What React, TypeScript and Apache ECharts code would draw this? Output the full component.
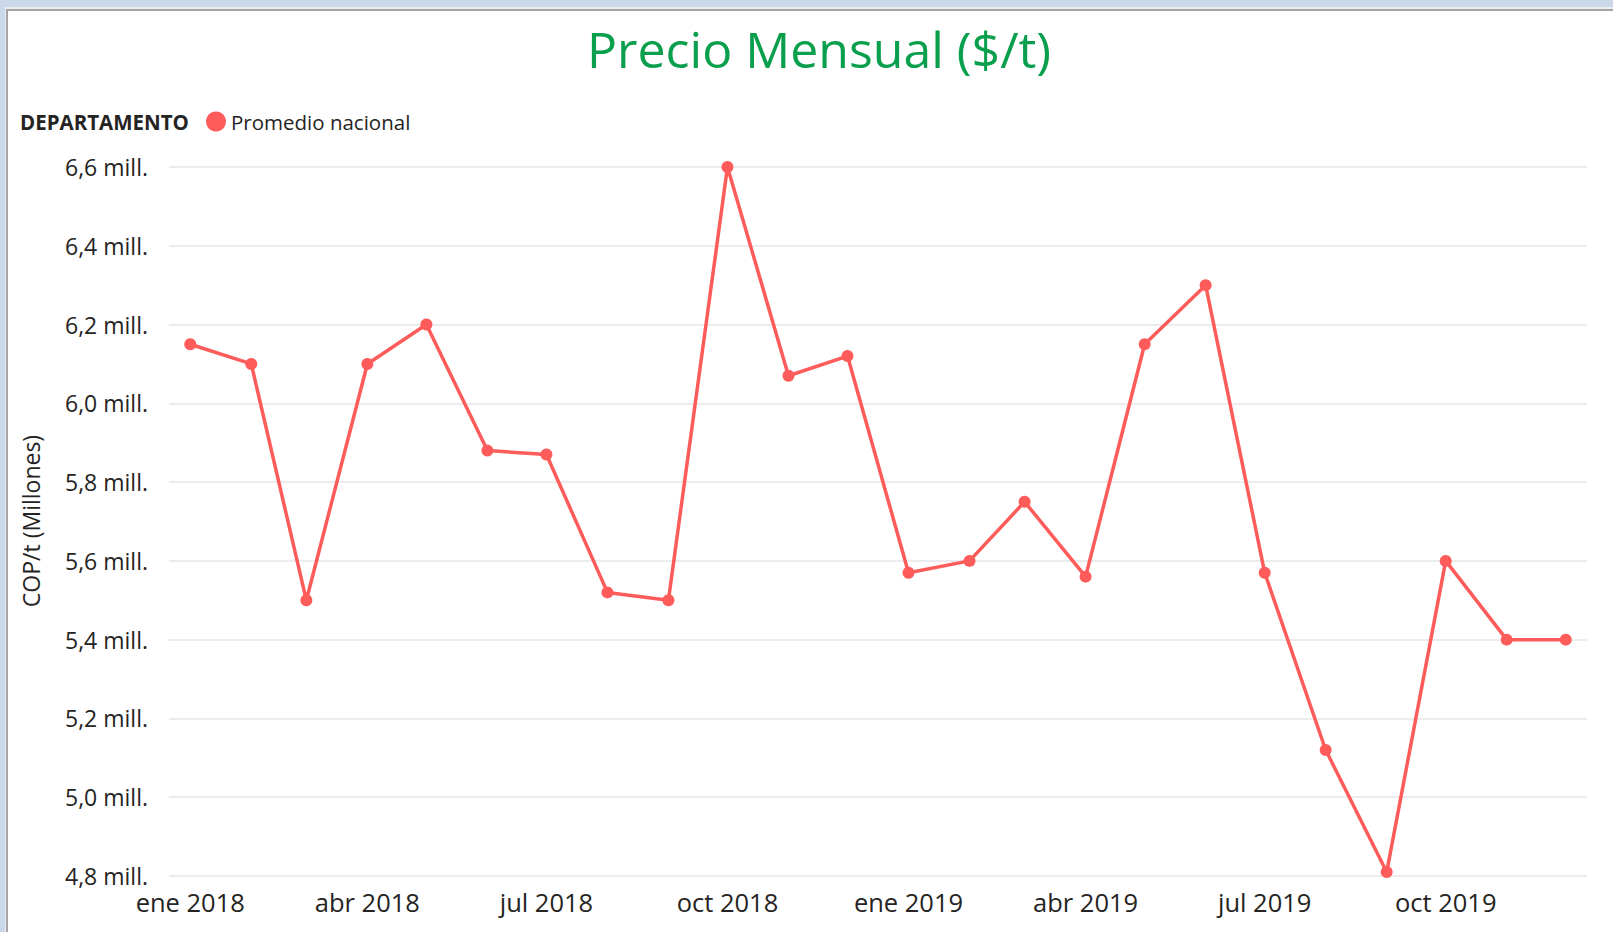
import React, { useEffect, useRef } from "react";
import * as echarts from "echarts";

// Months of the series (first day of each month)
const months: string[] = [
  "2018-01", "2018-02", "2018-03", "2018-04", "2018-05", "2018-06",
  "2018-07", "2018-08", "2018-09", "2018-10", "2018-11", "2018-12",
  "2019-01", "2019-02", "2019-03", "2019-04", "2019-05", "2019-06",
  "2019-07", "2019-08", "2019-09", "2019-10", "2019-11", "2019-12",
];

const monthNames: string[] = [
  "ene", "feb", "mar", "abr", "may", "jun", "jul", "ago", "sep", "oct", "nov", "dic",
];

// Promedio nacional, millones COP/t
const promedioNacional: number[] = [
  6.15, 6.10, 5.50, 6.10, 6.20, 5.88, 5.87, 5.52, 5.50, 6.60, 6.07, 6.12,
  5.57, 5.60, 5.75, 5.56, 6.15, 6.30, 5.57, 5.12, 4.81, 5.60, 5.40, 5.40,
];

const xTickMonths: string[] = [
  "2018-01", "2018-04", "2018-07", "2018-10", "2019-01", "2019-04", "2019-07", "2019-10",
];
const yTicks: number[] = [4.8, 5.0, 5.2, 5.4, 5.6, 5.8, 6.0, 6.2, 6.4, 6.6];

const FONT = "'Open Sans', 'Noto Sans', sans-serif";
const TEXT = "#252423";
const RED = "#FD5C5A";

// days since 2018-01-01 (UTC), so the x axis is a continuous date scale
const EPOCH = Date.UTC(2018, 0, 1);
const toDay = (ym: string) => {
  const [y, m] = ym.split("-").map(Number);
  return Math.round((Date.UTC(y, m - 1, 1) - EPOCH) / 86400000);
};
const dayLabel = (d: number) => {
  const dt = new Date(EPOCH + Math.round(d) * 86400000);
  return monthNames[dt.getUTCMonth()] + " " + dt.getUTCFullYear();
};

export default function App() {
  const ref = useRef<HTMLDivElement>(null);

  useEffect(() => {
    if (!ref.current) return;
    const chart = echarts.init(ref.current, undefined, { renderer: "svg" });
    const first = toDay(months[0]);
    const last = toDay(months[months.length - 1]);
    const pad = 10.8;
    const option: any = {
      animation: false,
      backgroundColor: "#ffffff",
      textStyle: { fontFamily: FONT },
      graphic: [
        { type: "rect", shape: { x: 0, y: 0, width: 1613, height: 7 }, style: { fill: "#cbd8ea" }, silent: true },
        { type: "rect", shape: { x: 0, y: 0, width: 5, height: 932 }, style: { fill: "#cbd8ea" }, silent: true },
        { type: "rect", shape: { x: 5, y: 7, width: 1608, height: 2 }, style: { fill: "#e9ecf0" }, silent: true },
        { type: "rect", shape: { x: 5, y: 7, width: 1, height: 925 }, style: { fill: "#e9ecf0" }, silent: true },
        { type: "rect", shape: { x: 6, y: 9, width: 1607, height: 2 }, style: { fill: "#a5a5a5" }, silent: true },
        { type: "rect", shape: { x: 6, y: 9, width: 2, height: 923 }, style: { fill: "#a5a5a5" }, silent: true },
        {
          type: "text",
          x: 819,
          y: 49,
          style: {
            text: "Precio Mensual ($/t)",
            fontFamily: FONT,
            fontSize: 50,
            fill: "#0a9f4c",
            align: "center",
            verticalAlign: "middle",
          },
        },
        {
          type: "text",
          x: 20,
          y: 122,
          style: {
            text: "DEPARTAMENTO",
            fontFamily: FONT,
            fontSize: 20.5,
            fontWeight: "bold",
            fill: TEXT,
            align: "left",
            verticalAlign: "middle",
          },
        },
        {
          type: "text",
          x: 31,
          y: 521,
          rotation: Math.PI / 2,
          style: {
            text: "COP/t (Millones)",
            fontFamily: FONT,
            fontSize: 23,
            fill: TEXT,
            align: "center",
            verticalAlign: "middle",
          },
        },
      ],
      legend: {
        left: 206,
        top: 111,
        padding: 0,
        icon: "circle",
        itemWidth: 20,
        itemHeight: 20,
        textStyle: { fontFamily: FONT, fontSize: 20.5, color: TEXT },
        data: ["Promedio nacional"],
      },
      grid: { left: 169, right: 26, top: 167, bottom: 56, containLabel: false },
      xAxis: {
        type: "value",
        min: first - pad,
        max: last + pad,
        axisLine: { show: false },
        axisTick: { show: false },
        splitLine: { show: false },
        axisLabel: {
          customValues: xTickMonths.map(toDay),
          formatter: (v: number) => dayLabel(v),
          fontFamily: FONT,
          fontSize: 25.5,
          color: TEXT,
          margin: 13,
        },
      },
      yAxis: {
        type: "value",
        min: yTicks[0],
        max: yTicks[yTicks.length - 1],
        interval: 0.2,
        axisLine: { show: false },
        axisTick: { show: false },
        splitLine: { lineStyle: { color: "#e6e6e6", width: 1.6 } },
        axisLabel: {
          formatter: (v: number) => v.toFixed(1).replace(".", ",") + " mill.",
          fontFamily: FONT,
          fontSize: 23,
          color: TEXT,
          margin: 21,
        },
      },
      series: [
        {
          name: "Promedio nacional",
          type: "line",
          data: promedioNacional.map((v, i) => [toDay(months[i]), v]),
          color: RED,
          symbol: "circle",
          symbolSize: 12,
          lineStyle: { color: RED, width: 3.5 },
          itemStyle: { color: RED },
        },
      ],
    };
    chart.setOption(option);
    return () => chart.dispose();
  }, []);

  return (
    <div
      ref={ref}
      style={{ position: "absolute", left: 0, top: 0, width: 1613, height: 932 }}
    />
  );
}
